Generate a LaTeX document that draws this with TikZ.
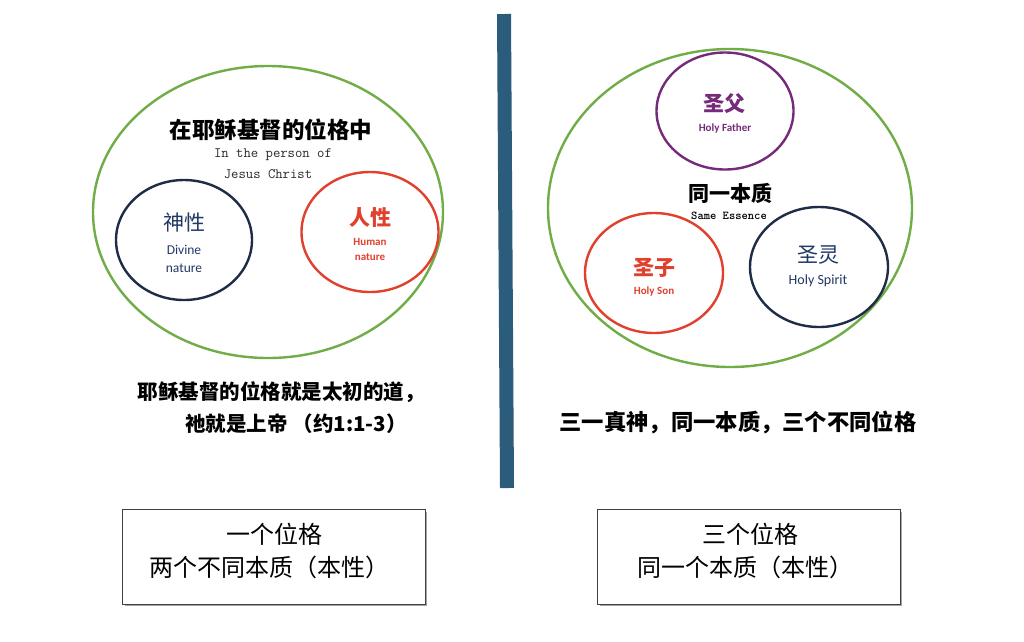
\documentclass[tikz,border=0pt]{standalone}
\usepackage{fontspec}
\usetikzlibrary{shapes.geometric}
\newfontfamily\cjk{Noto Sans CJK SC}
\newfontfamily\calib{Carlito}
\definecolor{grn}{RGB}{112,173,71}
\definecolor{navy}{RGB}{31,44,72}
\definecolor{navytxt}{RGB}{32,56,100}
\definecolor{redc}{RGB}{224,64,44}
\definecolor{purp}{RGB}{118,42,122}
\definecolor{barc}{RGB}{44,92,124}
\definecolor{monog}{RGB}{40,40,40}
\tikzset{
  ring/.style={ellipse,draw,line width=2.4pt,inner sep=0pt},
  bigring/.style={ring,draw=grn},
  zh/.style={font=\cjk\fontsize{21}{24}\selectfont,inner sep=0pt},
  zhb/.style={font=\cjk\bfseries\fontsize{21}{24}\selectfont,inner sep=0pt},
  ensm/.style={font=\calib\fontsize{13.5}{15}\selectfont,inner sep=0pt},
  ensmb/.style={font=\calib\bfseries\fontsize{11}{13}\selectfont,inner sep=0pt},
  mono/.style={font=\ttfamily\fontsize{14.3}{16}\selectfont,inner sep=0pt,text=monog},
  boxtxt/.style={font=\cjk\fontsize{24}{33}\selectfont,align=center,inner sep=0pt},
  framebox/.style={draw=black!75,line width=0.8pt,minimum width=303pt,minimum height=95pt,inner sep=0pt}
}
\begin{document}
\begin{tikzpicture}[x=1pt,y=-1pt]
\useasboundingbox (0,0) rectangle (1024,641);
\fill[white] (0,0) rectangle (1024,641);
% divider
\coordinate (bartop) at (504,14);
\coordinate (barbot) at (507,488);
\draw[barc,line width=14pt] (bartop) -- (barbot);
% left big ellipse
\node[bigring,minimum width=350pt,minimum height=292pt] (lbig) at (268,212) {};
\node[zhb,font=\cjk\bfseries\fontsize{22.5}{24}\selectfont] (ltitle) at (271,130) {在耶稣基督的位格中};
\node[mono] (len1) at (273,155) {In the person of};
\node[mono] (len2) at (268,174) {Jesus Christ};
\node[ring,draw=navy,minimum width=136pt,minimum height=120pt] (divine) at (184,240) {};
\node[zh,text=navytxt] (dzh) at (184,223) {神性};
\node[ensm,text=navytxt] (den1) at (184,250) {Divine};
\node[ensm,text=navytxt] (den2) at (184,268) {nature};
\node[ring,draw=redc,minimum width=137pt,minimum height=120pt] (human) at (370,232) {};
\node[zhb,text=redc] (hzh) at (370,218) {人性};
\node[ensmb,text=redc] (hen1) at (370,242) {Human};
\node[ensmb,text=redc] (hen2) at (370,257) {nature};
% left captions
\node[zhb,font=\cjk\bfseries\fontsize{20.5}{24}\selectfont] (lcap1) at (281,392) {耶稣基督的位格就是太初的道，};
\node[zhb,font=\cjk\bfseries\fontsize{20.5}{24}\selectfont] (lcap2) at (296,424) {祂就是上帝 （约1:1-3）};
% right big ellipse
\node[bigring,minimum width=364pt,minimum height=318pt] (rbig) at (730,208) {};
\node[ring,draw=purp,minimum width=137pt,minimum height=117pt] (father) at (725,111) {};
\node[zhb,text=purp] (fzh) at (724,104) {圣父};
\node[ensmb,text=purp] (fen) at (725,128) {Holy Father};
\node[zhb] (ess) at (730,193) {同一本质};
\node[mono,font=\ttfamily\bfseries\fontsize{12}{14}\selectfont,text=black] (essen) at (729,216) {Same Essence};
\node[ring,draw=redc,minimum width=138pt,minimum height=120pt] (son) at (654,273) {};
\node[zhb,text=redc] (szh) at (654,268) {圣子};
\node[ensmb,text=redc] (sen) at (654,291) {Holy Son};
\node[ring,draw=navy,minimum width=138pt,minimum height=120pt] (spirit) at (819,267) {};
\node[zh,text=navytxt] (spzh) at (818,255) {圣灵};
\node[ensm,font=\calib\fontsize{14}{16}\selectfont,text=navytxt] (spen) at (818,281) {Holy Spirit};
\node[zhb,font=\cjk\bfseries\fontsize{22.3}{24}\selectfont] (rcap) at (738,422) {三一真神，同一本质，三个不同位格};
% boxes
\fill[black!35] (125,512) rectangle (427,606);
\node[framebox,fill=white] (lbox) at (273.5,556.5) {};
\node[boxtxt] (lbt1) at (274,534) {一个位格};
\node[boxtxt] (lbt2) at (269,567) {两个不同本质（本性）};
\fill[black!35] (600,512) rectangle (902,606);
\node[framebox,fill=white] (rbox) at (748.5,556.5) {};
\node[boxtxt] (rbt1) at (750,534) {三个位格};
\node[boxtxt] (rbt2) at (745,567) {同一个本质（本性）};
\end{tikzpicture}
\end{document}
